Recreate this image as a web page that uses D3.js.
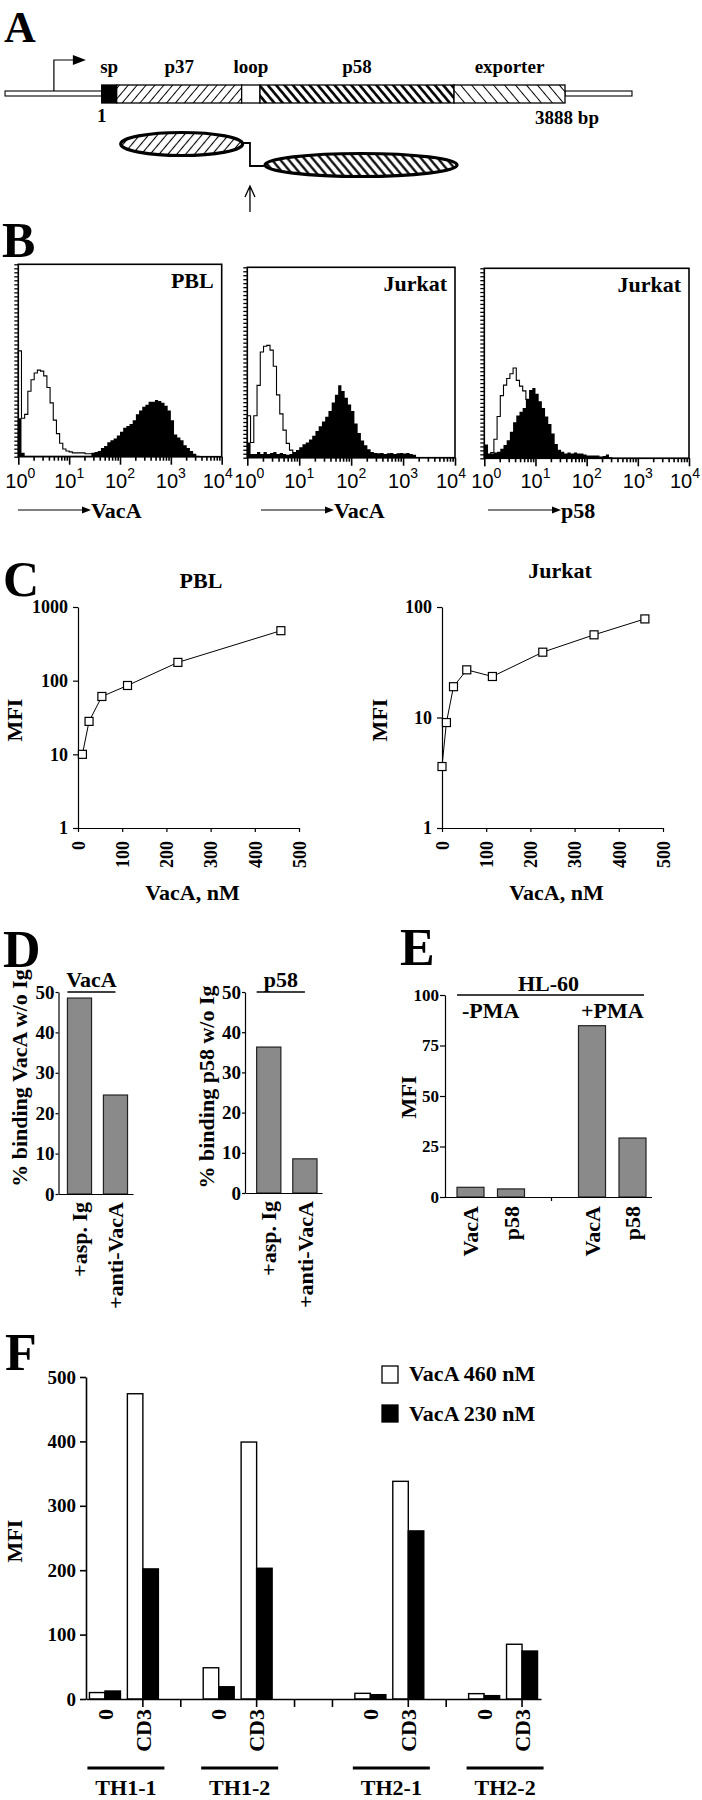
<!DOCTYPE html>
<html>
<head>
<meta charset="utf-8">
<script src="https://cdn.jsdelivr.net/npm/d3@7"></script>
<style>
  body { margin: 0; background: #fff; }
  svg text { font-family: "Liberation Serif", "Times New Roman", serif; font-weight: bold; fill: #000; }
</style>
</head>
<body>
<svg id="chart" width="702" height="1800"></svg>
<script>
// ---------- A: vacA gene map (bp) ----------
const geneLength = 3888;
const segNames = ["sp", "p37", "loop", "p58", "exporter"];
const segStart = [1, 127, 1175, 1329, 2957];
const segEnd = [127, 1175, 1329, 2957, 3888];
const flankLeft = [-810, 1];
const flankRight = [3888, 4450];
const promoterAt = -400;
const cleavageAt = 1245;

// ---------- B: flow histograms, 64 log channels over 10^0..10^4, % of plot height ----------
const pblOpen = [55, 20, 22, 34, 40, 43.5, 45, 44.5, 42, 36, 28, 19, 12, 7, 4, 3,
  2.5, 2, 2, 2, 2, 1.5, 1.5, 1.5, 1, 0.5, 0.5, 0, 0, 0, 0, 0,
  0, 0, 0, 0, 0, 0, 0, 0, 0, 0, 0, 0, 0, 0, 0, 0,
  0, 0, 0, 0, 0, 0, 0, 0, 0, 0, 0, 0, 0, 0, 0, 0];
const pblFilled = [20, 2, 0.5, 0.5, 0.5, 0.5, 0.5, 0.5, 0.5, 0.5, 0.5, 0.5, 0.5, 0.5, 0.5, 0.5,
  0.5, 0.5, 0.5, 0.5, 0.5, 0.5, 0.5, 2, 2.5, 3, 4.5, 5.5, 7.5, 8.5, 9.5, 11,
  13, 15, 16, 17, 19, 22, 24, 26, 27, 28.5, 28.5, 29.5, 29, 28, 26.5, 24,
  19, 11.5, 10, 8.5, 6, 4.5, 3, 1.5, 0.5, 0, 0, 0, 0, 0, 0, 0];
const jurVacOpen = [22, 8, 22, 38, 55.5, 58.5, 59, 56.5, 48, 33, 23, 14.5, 7.5, 4, 2, 1,
  0, 0, 0, 0, 0, 0, 0, 0, 0, 0, 0, 0, 0, 0, 0, 0,
  0, 0, 0, 0, 0, 0, 0, 0, 0, 0, 0, 0, 0, 0, 0, 0,
  0, 0, 0, 0, 0, 0, 0, 0, 0, 0, 0, 0, 0, 0, 0, 0];
const jurVacFilled = [8, 2, 2, 3, 2, 3, 2, 2.5, 3, 2, 2.5, 2, 1.5, 2, 3, 4,
  5.5, 7, 8, 9.5, 11.5, 14, 16.5, 19, 21.5, 24.5, 29, 33, 38, 35, 31.5, 28,
  24.5, 18, 13, 9, 6.5, 4.5, 3, 2.5, 2.3, 2.5, 2, 2.3, 2.5, 2, 2.3, 2.5,
  2.2, 2.5, 2, 1.5, 0.3, 0, 0, 0, 0, 0, 0, 0, 0, 0, 0, 0];
const jurP58Open = [7, 1.5, 3, 10, 22, 33, 38.5, 42, 44.5, 47.5, 41, 38, 35.5, 31, 24, 16,
  10, 6, 3.5, 2, 1, 0, 0, 0, 0, 0, 0, 0, 0, 0, 0, 0,
  0, 0, 0, 0, 0, 0, 0, 0, 0, 0, 0, 0, 0, 0, 0, 0,
  0, 0, 0, 0, 0, 0, 0, 0, 0, 0, 0, 0, 0, 0, 0, 0];
const jurP58Filled = [7, 2.5, 2.5, 3, 3.5, 5, 7, 9.5, 14, 19, 22.5, 24.5, 26.5, 31, 36, 37,
  34, 30, 26.5, 22, 18, 13, 7.5, 4.5, 3.5, 2.5, 3, 2.5, 3, 2.5, 2.5, 2,
  1.5, 1.5, 1.5, 1.5, 1, 1.2, 2, 0.5, 0, 0, 0, 0, 0, 0, 0, 0,
  0, 0, 0, 0, 0, 0, 0, 0, 0, 0, 0, 0, 0, 0, 0, 0];
const decades = [0, 1, 2, 3, 4];

// ---------- C: dose response ----------
const pblDose = [10, 25, 54, 112, 226, 459];
const pblMfi = [10, 28, 61, 86, 177, 477];
const jurDose = [0, 10, 26, 56, 114, 228, 344, 459];
const jurMfi = [3.6, 9, 19, 27, 23.5, 39, 56, 78];
const doseTicks = [0, 100, 200, 300, 400, 500];

// ---------- D: blocking ----------
const dCats = ["+asp. Ig", "+anti-VacA"];
const dVacA = [48.5, 24.5];
const dP58 = [36.3, 8.5];
const dTicks = [0, 10, 20, 30, 40, 50];

// ---------- E: HL-60 ----------
const eCats = ["VacA", "p58", "", "VacA", "p58"];
const eMfi = [4.8, 4, null, 84.8, 29.2];
const eTicks = [0, 25, 50, 75, 100];

// ---------- F: T-cell clones ----------
const fClone = ["TH1-1", "TH1-1", "", "TH1-2", "TH1-2", "", "", "TH2-1", "TH2-1", "", "TH2-2", "TH2-2"];
const fStim = ["0", "CD3", "", "0", "CD3", "", "", "0", "CD3", "", "0", "CD3"];
const f460 = [10, 474, null, 48.5, 399, null, null, 8.8, 338, null, 8.3, 85];
const f230 = [12.4, 202, null, 19, 203, null, null, 6.7, 261, null, 5.2, 74.5];
const fSeries = ["VacA 460 nM", "VacA 230 nM"];
const fTicks = [0, 100, 200, 300, 400, 500];

const svg = d3.select("#chart");
const defs = svg.append("defs");

function addText(parent, x, y, str, size, opts = {}) {
    let t = parent.append("text")
        .attr("transform", `translate(${x},${y})` + (opts.rotate ? ` rotate(${opts.rotate})` : ""))
        .attr("text-anchor", opts.anchor || "start")
        .attr("font-size", size)
        .text(str);
    if (opts.dy) t.attr("dy", opts.dy);
    return t;
}

function hatch(id, spacing, angle, width) {
    let p = defs.append("pattern")
        .attr("id", id)
        .attr("patternUnits", "userSpaceOnUse")
        .attr("width", spacing)
        .attr("height", spacing)
        .attr("patternTransform", `rotate(${angle})`);
    p.append("rect").attr("width", spacing).attr("height", spacing).attr("fill", "#fff");
    p.append("line")
        .attr("x1", spacing / 2).attr("x2", spacing / 2)
        .attr("y1", -1).attr("y2", spacing + 1)
        .attr("stroke", "#000").attr("stroke-width", width);
}
hatch("h37", 6.8, 40, 1);
hatch("h58", 6.4, -40, 2.6);
hatch("hexp", 8.4, -40, 1);
hatch("hel1", 6.8, 40, 1.1);
hatch("hel2", 6.4, -40, 2.2);

function styleAxis(g, size) {
    g.attr("font-size", size);
    g.selectAll("line").attr("stroke", "#000").attr("stroke-width", 1.2);
    g.selectAll("path.domain").attr("stroke", "#000").attr("stroke-width", 1.2);
}

// panel letters
addText(svg, 4, 42, "A", 44);
addText(svg, 2, 257, "B", 50);
addText(svg, 3, 596, "C", 50);
addText(svg, 3, 967, "D", 52);
addText(svg, 400, 965, "E", 52);
addText(svg, 5, 1370, "F", 52);

// ================= A =================
function drawGeneMap() {
    let g = svg.append("g");
    let bp = d3.scaleLinear().domain([1, geneLength]).range([101.7, 565]);
    let segFill = { sp: "#000", p37: "url(#h37)", loop: "#fff", p58: "url(#h58)", exporter: "url(#hexp)" };
    let barTop = 85, barH = 18, lineY = 91;

    [flankLeft, flankRight].forEach(f => {
        g.append("rect")
            .attr("x", bp(f[0])).attr("y", lineY)
            .attr("width", bp(f[1]) - bp(f[0])).attr("height", 5)
            .attr("fill", "#fff").attr("stroke", "#000").attr("stroke-width", 1.1);
    });

    g.selectAll(".seg").data(segNames).join("rect")
        .attr("class", "seg")
        .attr("x", (d, i) => bp(segStart[i]))
        .attr("width", (d, i) => bp(segEnd[i]) - bp(segStart[i]))
        .attr("y", barTop).attr("height", barH)
        .attr("fill", d => segFill[d])
        .attr("stroke", "#000").attr("stroke-width", 1.3);

    g.selectAll(".seglab").data(segNames).join("text")
        .attr("class", "seglab")
        .attr("x", (d, i) => (bp(segStart[i]) + bp(segEnd[i])) / 2)
        .attr("y", 73)
        .attr("text-anchor", "middle")
        .attr("font-size", 19)
        .text(d => d);

    addText(g, bp(1), 122, "1", 19, { anchor: "middle" });
    addText(g, bp(geneLength) + 2, 124, geneLength + " bp", 19, { anchor: "middle" });

    // promoter arrow
    let px = bp(promoterAt);
    g.append("path").attr("d", `M${px},${lineY} V60 H${px + 20}`)
        .attr("fill", "none").attr("stroke", "#000").attr("stroke-width", 1.2);
    g.append("path").attr("d", `M${px + 19},55 L${px + 32},60 L${px + 19},65 Z`).attr("fill", "#000");

    // processed protein: p37 and p58 domains
    let x1a = bp(segStart[1]) + 4, x1b = bp(segEnd[1]) + 1;
    let x2a = bp(segStart[3]) + 5, x2b = bp(segEnd[3]) + 3;
    let cx = bp(cleavageAt);
    g.append("path").attr("d", `M${x1b},143 H${cx} V166 H${x2a}`)
        .attr("fill", "none").attr("stroke", "#000").attr("stroke-width", 1.8);
    g.append("ellipse")
        .attr("cx", (x1a + x1b) / 2).attr("cy", 144)
        .attr("rx", (x1b - x1a) / 2).attr("ry", 11.5)
        .attr("fill", "url(#hel1)").attr("stroke", "#000").attr("stroke-width", 3.2);
    g.append("ellipse")
        .attr("cx", (x2a + x2b) / 2).attr("cy", 165)
        .attr("rx", (x2b - x2a) / 2).attr("ry", 11.5)
        .attr("fill", "url(#hel2)").attr("stroke", "#000").attr("stroke-width", 3.2);
    g.append("path").attr("d", `M${cx},212 V186 M${cx - 5},197 L${cx},186 L${cx + 5},197`)
        .attr("fill", "none").attr("stroke", "#000").attr("stroke-width", 1.3);
}

// ================= B =================
const flowCfg = [
    { title: "PBL", marker: "VacA", open: pblOpen, filled: pblFilled, left: 18.3, right: 221.7, top: 264.3, bottom: 456.7, arrowX: 18 },
    { title: "Jurkat", marker: "VacA", open: jurVacOpen, filled: jurVacFilled, left: 247.3, right: 455, top: 267.3, bottom: 457.7, arrowX: 261 },
    { title: "Jurkat", marker: "p58", open: jurP58Open, filled: jurP58Filled, left: 484.3, right: 689, top: 268.3, bottom: 458.3, arrowX: 488 }
];

function drawFlow(c) {
    let g = svg.append("g");
    let x = d3.scaleLog().domain([1, 1e4]).range([c.left, c.right]);
    let y = d3.scaleLinear().domain([0, 100]).range([c.bottom, c.top]);

    let steps = vals => {
        let n = vals.length;
        let pts = vals.map((v, i) => [Math.pow(10, 4 * i / n), v]);
        return [[1, 0]].concat(pts, [[1e4, vals[n - 1]], [1e4, 0]]);
    };

    g.append("path")
        .attr("d", d3.line().x(d => x(d[0])).y(d => y(d[1])).curve(d3.curveStepAfter)(steps(c.open)))
        .attr("fill", "#fff").attr("stroke", "#000").attr("stroke-width", 1.1);
    g.append("path")
        .attr("d", d3.area().x(d => x(d[0])).y0(c.bottom).y1(d => y(d[1])).curve(d3.curveStepAfter)(steps(c.filled)))
        .attr("fill", "#000");

    g.append("rect")
        .attr("x", c.left).attr("y", c.top)
        .attr("width", c.right - c.left).attr("height", c.bottom - c.top)
        .attr("fill", "none").attr("stroke", "#000").attr("stroke-width", 1.6);

    // count ruler
    let yr = d3.scaleLinear().domain([0, 48]).range([c.bottom, c.top]);
    let ly = g.append("g").attr("transform", `translate(${c.left},0)`)
        .call(d3.axisLeft(yr).tickValues(d3.range(0, 49)).tickSize(4).tickSizeOuter(0).tickFormat(""));
    ly.select(".domain").remove();
    ly.selectAll("line").attr("stroke-width", 1.3);

    // log channel axis
    let isMajor = d => Math.abs(Math.log10(d) - Math.round(Math.log10(d))) < 1e-9;
    let lx = g.append("g").attr("transform", `translate(0,${c.bottom})`)
        .call(d3.axisBottom(x).tickValues(x.ticks()).tickSize(4).tickSizeOuter(0).tickFormat(""));
    lx.select(".domain").remove();
    lx.selectAll("line").attr("stroke-width", 1.6).attr("y2", d => isMajor(d) ? 8 : 4);

    decades.forEach(e => {
        let nudge = e === 0 ? 2 : (e === decades.length - 1 ? -4 : 0);
        let t = g.append("text")
            .attr("x", x(Math.pow(10, e)) + nudge).attr("y", 488)
            .attr("text-anchor", "middle")
            .style("font-family", "'Liberation Sans', Arial, sans-serif")
            .style("font-weight", "normal")
            .attr("font-size", 20);
        t.append("tspan").text("10");
        t.append("tspan").attr("font-size", 14).attr("dy", -10).text(e);
    });

    addText(g, c.right - 8, c.top + 24, c.title, 22, { anchor: "end" });

    // parameter arrow
    g.append("line").attr("x1", c.arrowX).attr("x2", c.arrowX + 66)
        .attr("y1", 510).attr("y2", 510).attr("stroke", "#000").attr("stroke-width", 1.2);
    g.append("path").attr("d", `M${c.arrowX + 64},506.5 L${c.arrowX + 73},510 L${c.arrowX + 64},513.5 Z`).attr("fill", "#000");
    addText(g, c.arrowX + 73, 518, c.marker, 22);
}

// ================= C =================
const cCfg = [
    { title: "PBL", dose: pblDose, mfi: pblMfi, yMax: 1000, left: 78, right: 299, top: 607, bottom: 828, titleX: 201, titleY: 588, mfiX: 14 },
    { title: "Jurkat", dose: jurDose, mfi: jurMfi, yMax: 100, left: 442, right: 663, top: 607, bottom: 828, titleX: 560, titleY: 578, mfiX: 379 }
];

function drawDose(c) {
    let g = svg.append("g");
    let x = d3.scaleLinear().domain([0, 500]).range([c.left, c.right]);
    let y = d3.scaleLog().domain([1, c.yMax]).range([c.bottom, c.top]);
    let yTicks = d3.range(0, Math.round(Math.log10(c.yMax)) + 1).map(e => Math.pow(10, e));

    let ya = g.append("g").attr("transform", `translate(${c.left},0)`)
        .call(d3.axisLeft(y).tickValues(yTicks).tickFormat(d3.format("d")).tickSize(5).tickPadding(5).tickSizeOuter(0));
    styleAxis(ya, 18);

    let xa = g.append("g").attr("transform", `translate(0,${c.bottom})`)
        .call(d3.axisBottom(x).tickValues(doseTicks).tickSize(4).tickSizeOuter(0));
    styleAxis(xa, 18);
    xa.selectAll("text")
        .attr("transform", "rotate(-90)")
        .attr("text-anchor", "end")
        .attr("x", -13).attr("y", 0).attr("dy", "0.35em");

    let pts = c.dose.map((d, i) => [d, c.mfi[i]]);
    g.append("path")
        .attr("d", d3.line().x(d => x(d[0])).y(d => y(d[1]))(pts))
        .attr("fill", "none").attr("stroke", "#000").attr("stroke-width", 1);
    g.selectAll(".pt").data(pts).join("rect")
        .attr("x", d => x(d[0]) - 4).attr("y", d => y(d[1]) - 4)
        .attr("width", 8).attr("height", 8)
        .attr("fill", "#fff").attr("stroke", "#000").attr("stroke-width", 1.2);

    addText(g, c.titleX, c.titleY, c.title, 22, { anchor: "middle" });
    addText(g, (c.left + c.right) / 2 + 4, 900, "VacA, nM", 22, { anchor: "middle" });
    addText(g, c.mfiX, 720, "MFI", 22, { anchor: "middle", rotate: -90, dy: "0.35em" });
}

// ================= D =================
const dCfg = [
    { values: dVacA, head: "VacA", yLabel: "% binding VacA w/o Ig", left: 58.5, right: 133, top: 992, bottom: 1194, po: 0.2, align: 0.62, yLabelX: 19, yLabelY: 1078 },
    { values: dP58, head: "p58", yLabel: "% binding p58 w/o Ig", left: 245, right: 322, top: 992, bottom: 1193, po: 0.23, align: 0.7, yLabelX: 206, yLabelY: 1087 }
];

function drawBlock(c) {
    let g = svg.append("g");
    let x = d3.scaleBand().domain(dCats).range([c.left, c.right])
        .paddingInner(0.33).paddingOuter(c.po).align(c.align);
    let y = d3.scaleLinear().domain([0, 50]).range([c.bottom, c.top]);

    g.selectAll(".bar").data(c.values).join("rect")
        .attr("x", (d, i) => x(dCats[i])).attr("width", x.bandwidth())
        .attr("y", d => y(d)).attr("height", d => y(0) - y(d))
        .attr("fill", "#8a8a8a").attr("stroke", "#222").attr("stroke-width", 1.2);

    let ya = g.append("g").attr("transform", `translate(${c.left},0)`)
        .call(d3.axisLeft(y).tickValues(dTicks).tickSize(3).tickPadding(1).tickSizeOuter(0));
    styleAxis(ya, 19);

    let xa = g.append("g").attr("transform", `translate(0,${c.bottom})`)
        .call(d3.axisBottom(x).tickSize(0).tickSizeOuter(0));
    styleAxis(xa, 22);
    xa.selectAll("text")
        .attr("transform", "rotate(-90)")
        .attr("text-anchor", "end")
        .attr("x", -8).attr("y", 0).attr("dy", "0.35em");

    let hx0 = x(dCats[0]), hx1 = x(dCats[1]) + x.bandwidth() / 2;
    g.append("line").attr("x1", hx0).attr("x2", hx1).attr("y1", c.top).attr("y2", c.top)
        .attr("stroke", "#000").attr("stroke-width", 1.5);
    addText(g, (hx0 + hx1) / 2, c.top - 5, c.head, 22, { anchor: "middle" });
    addText(g, c.yLabelX, c.yLabelY, c.yLabel, 22, { anchor: "middle", rotate: -90, dy: "0.35em" });
}

// ================= E =================
function drawHL60() {
    let g = svg.append("g");
    let left = 445, right = 652, top = 995, bottom = 1197;
    let x = d3.scaleBand().domain(d3.range(eCats.length)).range([left, right])
        .paddingInner(0.333).paddingOuter(0.222).align(0.667);
    let y = d3.scaleLinear().domain([0, 100]).range([bottom, top]);

    let slots = eMfi.map((v, i) => ({ i: i, v: v, cat: eCats[i] }));
    g.selectAll(".bar").data(slots.filter(d => d.v !== null)).join("rect")
        .attr("x", d => x(d.i)).attr("width", x.bandwidth())
        .attr("y", d => y(d.v)).attr("height", d => y(0) - y(d.v))
        .attr("fill", "#8a8a8a").attr("stroke", "#222").attr("stroke-width", 1.2);

    let ya = g.append("g").attr("transform", `translate(${left},0)`)
        .call(d3.axisLeft(y).tickValues(eTicks).tickSize(5).tickPadding(1).tickSizeOuter(0));
    styleAxis(ya, 17);

    let xa = g.append("g").attr("transform", `translate(0,${bottom})`)
        .call(d3.axisBottom(x).tickValues(slots.filter(d => d.v === null).map(d => d.i))
            .tickSize(4).tickSizeOuter(0).tickFormat(""));
    styleAxis(xa, 22);
    xa.select(".domain").attr("d", `M${left},0.5H${right}`);

    g.selectAll(".xl").data(slots.filter(d => d.v !== null)).join("text")
        .attr("transform", d => `translate(${x(d.i) + x.bandwidth() / 2},${bottom + 9}) rotate(-90)`)
        .attr("text-anchor", "end").attr("dy", "0.35em")
        .attr("font-size", 22)
        .text(d => d.cat);

    let hx0 = x(0), hx1 = x(eCats.length - 1) + x.bandwidth() - 2;
    g.append("line").attr("x1", hx0).attr("x2", hx1).attr("y1", top).attr("y2", top)
        .attr("stroke", "#000").attr("stroke-width", 1.5);
    addText(g, (hx0 + hx1) / 2 - 2, top - 4, "HL-60", 22, { anchor: "middle" });
    addText(g, (x(0) + x(1) + x.bandwidth()) / 2, 1018, "-PMA", 22, { anchor: "middle" });
    addText(g, (x(3) + x(4) + x.bandwidth()) / 2, 1018, "+PMA", 22, { anchor: "middle" });
    addText(g, 408, 1097, "MFI", 22, { anchor: "middle", rotate: -90, dy: "0.35em" });
}

// ================= F =================
function drawClones() {
    let g = svg.append("g");
    let left = 86, right = 541, top = 1377, bottom = 1699;
    let x = d3.scaleBand().domain(d3.range(fStim.length)).range([left, right]).padding(0);
    let sub = d3.scaleBand().domain(fSeries).range([-15.5, 15.5]);
    let y = d3.scaleLinear().domain([0, 500]).range([bottom, top]);
    let color = d3.scaleOrdinal().domain(fSeries).range(["#fff", "#000"]);

    let rows = [];
    fStim.forEach((s, i) => {
        if (f460[i] !== null) rows.push({ i: i, key: fSeries[0], v: f460[i] });
        if (f230[i] !== null) rows.push({ i: i, key: fSeries[1], v: f230[i] });
    });
    let cx = i => x(i) + x.bandwidth() / 2;

    g.selectAll(".bar").data(rows).join("rect")
        .attr("x", d => cx(d.i) + sub(d.key)).attr("width", sub.bandwidth())
        .attr("y", d => y(d.v)).attr("height", d => y(0) - y(d.v))
        .attr("fill", d => color(d.key)).attr("stroke", "#000").attr("stroke-width", 1.4);

    let ya = g.append("g").attr("transform", `translate(${left},0)`)
        .call(d3.axisLeft(y).tickValues(fTicks).tickSize(6).tickPadding(4).tickSizeOuter(0));
    styleAxis(ya, 19);
    ya.selectAll("line, path").attr("stroke-width", 1.6);

    let tickIdx = fStim.map((s, i) => i).filter(i => fStim[i] !== "0");
    let xa = g.append("g").attr("transform", `translate(0,${bottom})`)
        .call(d3.axisBottom(x).tickValues(tickIdx).tickSize(8).tickSizeOuter(0).tickFormat(""));
    styleAxis(xa, 22);
    xa.selectAll("line, path").attr("stroke-width", 1.6);

    let stimIdx = fStim.map((s, i) => i).filter(i => fStim[i] !== "");
    g.selectAll(".xl").data(stimIdx).join("text")
        .attr("transform", i => `translate(${cx(i)},${bottom + 10}) rotate(-90)`)
        .attr("text-anchor", "end").attr("dy", "0.35em")
        .attr("font-size", 22)
        .text(i => fStim[i]);

    let clones = Array.from(new Set(fClone.filter(c => c !== "")));
    clones.forEach(name => {
        let idx = fClone.map((c, i) => i).filter(i => fClone[i] === name);
        let mid = (cx(idx[0]) + cx(idx[idx.length - 1])) / 2 + 2;
        g.append("line").attr("x1", mid - 38.5).attr("x2", mid + 38.5)
            .attr("y1", 1768).attr("y2", 1768)
            .attr("stroke", "#000").attr("stroke-width", 3.2);
        addText(g, mid, 1795, name, 22, { anchor: "middle" });
    });

    addText(g, 14, 1541, "MFI", 22, { anchor: "middle", rotate: -90, dy: "0.35em" });

    // legend
    fSeries.forEach((s, k) => {
        g.append("rect").attr("x", 382).attr("y", 1366 + k * 39)
            .attr("width", 16).attr("height", 17)
            .attr("fill", color(s)).attr("stroke", "#000").attr("stroke-width", 1.3);
        addText(g, 409, 1381 + k * 40, s, 22);
    });
}

drawGeneMap();
flowCfg.forEach(drawFlow);
cCfg.forEach(drawDose);
dCfg.forEach(drawBlock);
drawHL60();
drawClones();
</script>
</body>
</html>
